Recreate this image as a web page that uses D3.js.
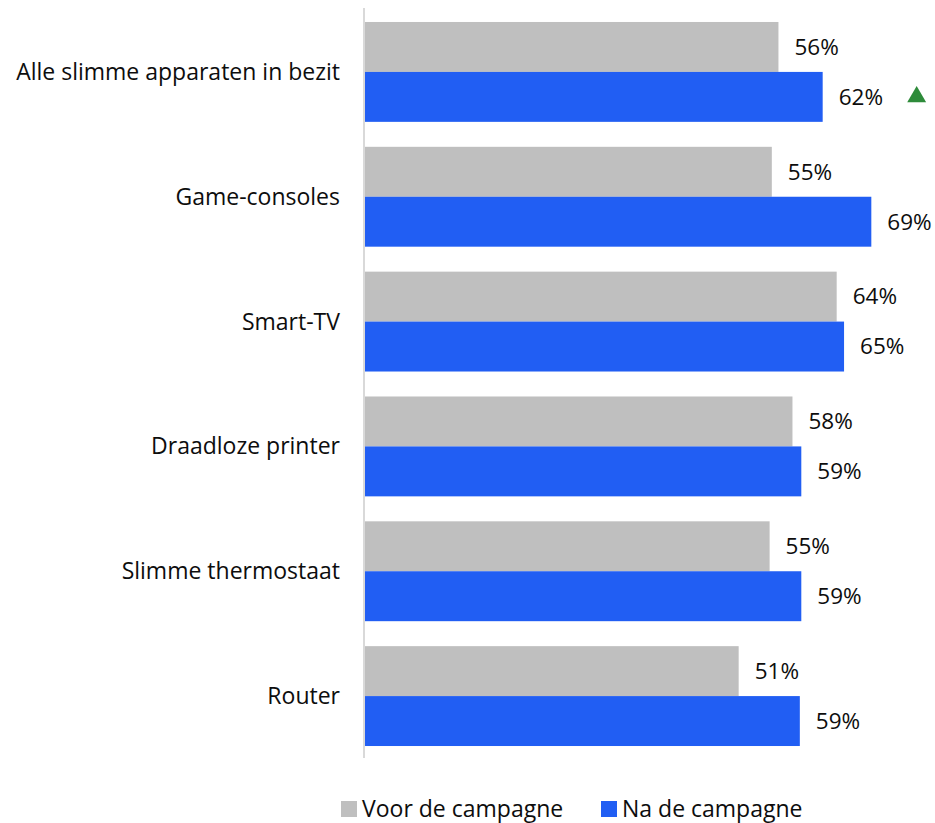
<!DOCTYPE html>
<html>
<head>
<meta charset="utf-8">
<script src="https://cdn.jsdelivr.net/npm/d3@7"></script>
<style>
  body { margin: 0; background: #fff; }
  text { font-family: "Open Sans", sans-serif; fill: #0d0d0d; }
</style>
</head>
<body>
<svg id="chart" width="935" height="823"></svg>
<script>
var categories = ['Alle slimme apparaten in bezit', 'Game-consoles', 'Smart-TV',
                  'Draadloze printer', 'Slimme thermostaat', 'Router'];
var series = ['Voor de campagne', 'Na de campagne'];
var voor = [0.561, 0.552, 0.640, 0.580, 0.549, 0.507];
var na = [0.621, 0.687, 0.650, 0.592, 0.592, 0.590];
// significant rise after the campaign
var significant = [true, false, false, false, false, false];

var colors = {'Voor de campagne': '#bfbfbf', 'Na de campagne': '#215ef3'};

var svg = d3.select('#chart');

var data = categories.map((c, i) => ({
  category: c,
  values: [
    {series: series[0], value: voor[i]},
    {series: series[1], value: na[i], up: significant[i]}
  ]
}));

var y = d3.scaleBand()
  .domain(categories)
  .range([9.5, 758.5])
  .paddingInner(0.2)
  .paddingOuter(0.1);

var ySeries = d3.scaleBand()
  .domain(series)
  .range([0, y.bandwidth()]);

var x = d3.scaleLinear()
  .domain([0, 1])
  .range([365, 365 + 737]);

var fmt = d3.format('.0%');

// category labels
svg.append('g')
  .selectAll('text')
  .data(categories)
  .join('text')
    .attr('x', 340)
    .attr('y', d => y(d) + y.bandwidth() / 2)
    .attr('dy', '0.35em')
    .attr('text-anchor', 'end')
    .style('font-size', '23px')
    .text(d => d);

var groups = svg.append('g')
  .selectAll('g')
  .data(data)
  .join('g')
    .attr('transform', d => `translate(0, ${y(d.category)})`);

groups.selectAll('rect')
  .data(d => d.values)
  .join('rect')
    .attr('x', x(0))
    .attr('y', d => ySeries(d.series))
    .attr('width', d => x(d.value) - x(0))
    .attr('height', ySeries.bandwidth())
    .attr('fill', d => colors[d.series]);

groups.selectAll('text.value')
  .data(d => d.values)
  .join('text')
    .attr('class', 'value')
    .attr('x', d => x(d.value) + 16)
    .attr('y', d => ySeries(d.series) + ySeries.bandwidth() / 2)
    .attr('dy', '0.35em')
    .style('font-size', '22.5px')
    .text(d => fmt(d.value));

groups.selectAll('path.up')
  .data(d => d.values.filter(v => v.up))
  .join('path')
    .attr('class', 'up')
    .attr('d', d3.symbol().type(d3.symbolTriangle).size(155))
    .attr('transform', d => `translate(${x(d.value) + 94}, ${ySeries(d.series) + ySeries.bandwidth() / 2})`)
    .attr('fill', '#2e8b3a');

// axis line
svg.append('line')
  .attr('x1', 364).attr('x2', 364)
  .attr('y1', 8).attr('y2', 758)
  .attr('stroke', '#d9d9d9')
  .attr('stroke-width', 2);

// legend
var legend = svg.append('g')
  .selectAll('g')
  .data(series)
  .join('g')
    .attr('transform', (d, i) => `translate(${i === 0 ? 341 : 601}, 801)`);

legend.append('rect')
  .attr('width', 16)
  .attr('height', 16)
  .attr('fill', d => colors[d]);

legend.append('text')
  .attr('x', 21)
  .attr('y', 8)
  .attr('dy', '0.35em')
  .style('font-size', '23px')
  .text(d => d);
</script>
</body>
</html>
